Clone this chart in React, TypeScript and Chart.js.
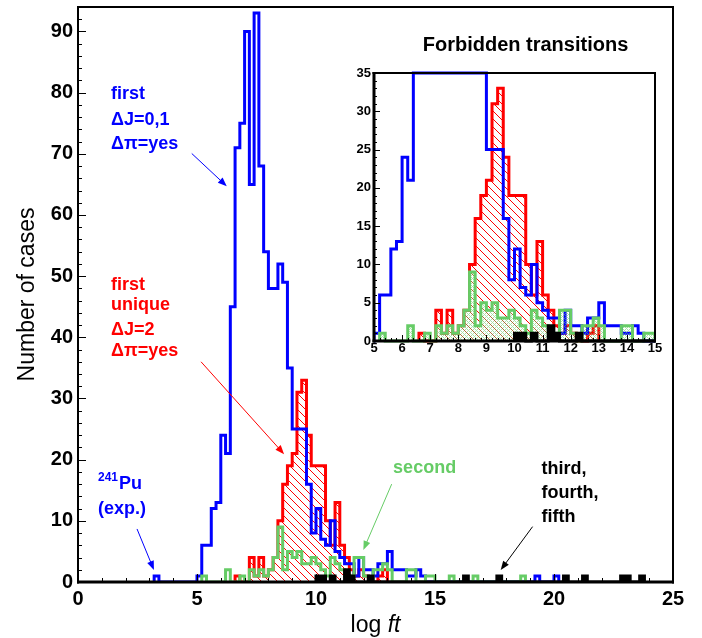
import React, { useEffect, useRef } from 'react';
import { Chart, registerables } from 'chart.js';

Chart.register(...registerables);

const FONT = "'Liberation Sans', Arial, Helvetica, sans-serif";
const BIN_WIDTH = 0.2;

// first forbidden, ΔJ=0,1 (blue) — counts per 0.2 bin starting at firstStart
const firstStart = 5.0;
const firstCounts = [1, 6, 6, 12, 13, 24, 21, 45, 71, 75, 90, 65, 93, 68, 54, 48, 48, 52, 49, 35, 25, 25, 25, 16, 8, 12, 7, 6, 10, 5, 4, 3, 3, 1, 4, 2, 2, 1, 3, 3, 5, 2, 2, 2, 1, 1, 2, 1];
const firstExtraEdges = [3.2, 19.2, 20.0];
const firstExtraCounts = [1, 1, 1];

// first unique, ΔJ=2 (red)
const uniqueStart = 6.6;
const uniqueCounts = [1, 0, 0, 4, 1, 4, 1, 2, 4, 10, 16, 19, 21, 31, 33, 24, 19, 19, 19, 10, 6, 13, 6, 4, 2, 1, 2, 1, 0, 0, 1, 2];
const uniqueExtraEdges: number[] = [];
const uniqueExtraCounts: number[] = [];

// second forbidden (green)
const secondStart = 5.2;
const secondCounts = [1, 0, 0, 0, 0, 2, 0, 0, 1, 0, 2, 1, 2, 1, 2, 4, 9, 2, 5, 4, 5, 3, 3, 4, 3, 2, 1, 4, 3, 2, 1, 1, 4, 4, 1, 0, 2, 2, 3, 2, 0, 0, 0, 2, 2, 0, 0, 1, 1];
const secondExtraEdges = [15.6, 16.6, 18.6];
const secondExtraCounts = [1, 1, 1];

// third, fourth, fifth (black)
const higherStart = 10.0;
const higherCounts = [1, 1, 0, 1, 0, 0, 2, 1, 0, 0, 0, 1];
const higherExtraEdges = [16.2, 17.6, 20.4, 21.2, 22.8, 23.0, 23.6];
const higherExtraCounts = [1, 1, 1, 1, 1, 1, 1];

// axes
const mainXTicks = [0, 5, 10, 15, 20, 25];
const mainYTicks = [0, 10, 20, 30, 40, 50, 60, 70, 80, 90];
const insetXTicks = [5, 6, 7, 8, 9, 10, 11, 12, 13, 14, 15];
const insetYTicks = [0, 5, 10, 15, 20, 25, 30, 35];

// annotation texts
const firstLabel = ['first', 'ΔJ=0,1', 'Δπ=yes'];
const uniqueLabel = ['first', 'unique', 'ΔJ=2', 'Δπ=yes'];
const puLabel = ['241', 'Pu', '(exp.)'];
const secondLabel = 'second';
const higherLabel = ['third,', 'fourth,', 'fifth'];
const insetTitle = 'Forbidden transitions';

const BLUE = '#0000ff';
const RED = '#ff0000';
const GREEN = '#66cc66';
const BLACK = '#000000';

type Pt = { x: number; y: number };

function histogramSteps(start: number, counts: number[], extraEdges: number[], extraCounts: number[], cap = Infinity): Pt[] {
  const bins = new Map<number, number>();
  const k0 = Math.round(start / BIN_WIDTH);
  counts.forEach((c, i) => bins.set(k0 + i, c));
  extraEdges.forEach((e, i) => bins.set(Math.round(e / BIN_WIDTH), extraCounts[i]));
  const keys = Array.from(bins.keys());
  const lo = Math.min(...keys);
  const hi = Math.max(...keys);
  const pts: Pt[] = [{ x: lo * BIN_WIDTH, y: 0 }];
  for (let k = lo; k <= hi; k++) pts.push({ x: k * BIN_WIDTH, y: Math.min(bins.get(k) ?? 0, cap) });
  pts.push({ x: (hi + 1) * BIN_WIDTH, y: 0 });
  return pts;
}

function hatch(ctx: CanvasRenderingContext2D, color: string, size: number) {
  const c = document.createElement('canvas');
  c.width = size;
  c.height = size;
  const g = c.getContext('2d')!;
  g.strokeStyle = color;
  g.lineWidth = 1;
  g.beginPath();
  g.moveTo(-1, -1);
  g.lineTo(size + 1, size + 1);
  g.moveTo(-1, size - 1);
  g.lineTo(1, size + 1);
  g.moveTo(size - 1, -1);
  g.lineTo(size + 1, 1);
  g.stroke();
  return ctx.createPattern(c, 'repeat')!;
}

function crossHatch(ctx: CanvasRenderingContext2D, color: string) {
  const c = document.createElement('canvas');
  c.width = 4;
  c.height = 4;
  const g = c.getContext('2d')!;
  g.fillStyle = color;
  g.fillRect(0, 0, 1, 1);
  g.fillRect(2, 2, 1, 1);
  g.fillRect(1, 1, 1, 1);
  g.fillRect(3, 3, 1, 1);
  g.fillRect(3, 1, 1, 1);
  g.fillRect(1, 3, 1, 1);
  return ctx.createPattern(c, 'repeat')!;
}

type FrameCfg = {
  xMin: number; xMax: number; xMajor: number; xMinor: number;
  yMin: number; yMax: number; yMajor: number; yMinor: number;
  majorLen: number; minorLen: number;
  wLeft: number; wBottom: number; wTop: number; wRight: number;
};

function drawFrame(chart: any, cfg: FrameCfg) {
  const { ctx, chartArea: a, scales } = chart;
  const sx = scales.x;
  const sy = scales.y;
  ctx.save();
  ctx.strokeStyle = '#000';
  ctx.lineWidth = 1;
  ctx.beginPath();
  const nx = Math.round((cfg.xMax - cfg.xMin) / cfg.xMinor);
  for (let i = 0; i <= nx; i++) {
    const v = cfg.xMin + i * cfg.xMinor;
    const r = v / cfg.xMajor;
    const major = Math.abs(r - Math.round(r)) < 1e-6;
    const px = Math.round(sx.getPixelForValue(v)) + 0.5;
    ctx.moveTo(px, a.bottom);
    ctx.lineTo(px, a.bottom - (major ? cfg.majorLen : cfg.minorLen));
  }
  const ny = Math.floor((cfg.yMax - cfg.yMin) / cfg.yMinor + 1e-6);
  for (let i = 0; i <= ny; i++) {
    const v = cfg.yMin + i * cfg.yMinor;
    const r = v / cfg.yMajor;
    const major = Math.abs(r - Math.round(r)) < 1e-6;
    const py = Math.round(sy.getPixelForValue(v)) + 0.5;
    ctx.moveTo(a.left, py);
    ctx.lineTo(a.left + (major ? cfg.majorLen : cfg.minorLen), py);
  }
  ctx.stroke();
  ctx.fillStyle = '#000';
  ctx.fillRect(a.left - cfg.wLeft / 2, a.top - cfg.wTop / 2, cfg.wLeft, a.bottom - a.top + cfg.wTop / 2 + cfg.wBottom / 2);
  ctx.fillRect(a.left - cfg.wLeft / 2, a.bottom - cfg.wBottom / 2, a.right - a.left + cfg.wLeft / 2 + cfg.wRight / 2, cfg.wBottom);
  ctx.fillRect(a.left - cfg.wLeft / 2, a.top - cfg.wTop / 2, a.right - a.left + cfg.wLeft / 2 + cfg.wRight / 2, cfg.wTop);
  ctx.fillRect(a.right - cfg.wRight / 2, a.top - cfg.wTop / 2, cfg.wRight, a.bottom - a.top + cfg.wTop / 2 + cfg.wBottom / 2);
  ctx.restore();
}

function arrow(ctx: CanvasRenderingContext2D, x1: number, y1: number, x2: number, y2: number, color: string) {
  const ang = Math.atan2(y2 - y1, x2 - x1);
  const head = 9;
  const half = 3.5;
  ctx.save();
  ctx.strokeStyle = color;
  ctx.fillStyle = color;
  ctx.lineWidth = 1;
  ctx.beginPath();
  ctx.moveTo(x1, y1);
  ctx.lineTo(x2 - Math.cos(ang) * head * 0.8, y2 - Math.sin(ang) * head * 0.8);
  ctx.stroke();
  ctx.beginPath();
  ctx.moveTo(x2, y2);
  ctx.lineTo(x2 - Math.cos(ang) * head + Math.sin(ang) * half, y2 - Math.sin(ang) * head - Math.cos(ang) * half);
  ctx.lineTo(x2 - Math.cos(ang) * head - Math.sin(ang) * half, y2 - Math.sin(ang) * head + Math.cos(ang) * half);
  ctx.closePath();
  ctx.fill();
  ctx.restore();
}

function lineDataset(label: string, data: Pt[], color: string, order: number, fill: any, bg: any) {
  return {
    label,
    data,
    borderColor: color,
    borderWidth: 3,
    borderJoinStyle: 'miter' as const,
    borderCapStyle: 'butt' as const,
    pointRadius: 0,
    pointHoverRadius: 0,
    stepped: 'before' as const,
    tension: 0,
    fill,
    backgroundColor: bg,
    order,
  };
}

export default function App() {
  const mainRef = useRef<HTMLCanvasElement>(null);
  const insetRef = useRef<HTMLCanvasElement>(null);

  useEffect(() => {
    document.body.style.margin = '0';
    Chart.defaults.font.family = FONT;
    const mainCanvas = mainRef.current!;
    const insetCanvas = insetRef.current!;
    const mctx = mainCanvas.getContext('2d')!;
    const ictx = insetCanvas.getContext('2d')!;

    const tickFont = { family: FONT, size: 20, weight: 'bold' as const };

    const mainFramePlugin = {
      id: 'mainFrame',
      afterDatasetsDraw(chart: any) {
        drawFrame(chart, {
          xMin: 0, xMax: 25, xMajor: 5, xMinor: 1,
          yMin: 0, yMax: 94, yMajor: 10, yMinor: 2,
          majorLen: 8, minorLen: 4,
          wLeft: 2, wBottom: 3, wTop: 2, wRight: 2,
        });
      },
      afterDraw(chart: any) {
        const { ctx, chartArea: a, scales } = chart;
        const X = (v: number) => scales.x.getPixelForValue(v);
        const Y = (v: number) => scales.y.getPixelForValue(v);
        ctx.save();
        // axis titles
        ctx.fillStyle = '#000';
        ctx.textBaseline = 'middle';
        ctx.font = `23px ${FONT}`;
        ctx.save();
        ctx.translate(28, (a.top + a.bottom) / 2);
        ctx.rotate(-Math.PI / 2);
        ctx.textAlign = 'center';
        ctx.fillText('Number of cases', 0, 0);
        ctx.restore();
        ctx.textAlign = 'left';
        const p1 = 'log ';
        ctx.font = `23px ${FONT}`;
        const w1 = ctx.measureText(p1).width;
        ctx.font = `italic 23px ${FONT}`;
        const w2 = ctx.measureText('ft').width;
        const cx = (a.left + a.right) / 2 - (w1 + w2) / 2;
        ctx.font = `23px ${FONT}`;
        ctx.fillText(p1, cx, 626);
        ctx.font = `italic 23px ${FONT}`;
        ctx.fillText('ft', cx + w1, 626);

        // annotations
        ctx.font = `bold 18px ${FONT}`;
        ctx.fillStyle = BLUE;
        const fy = [79.8, 75.45, 71.6];
        firstLabel.forEach((t, i) => ctx.fillText(t, X(1.39), Y(fy[i])));
        ctx.fillStyle = RED;
        const uy = [48.6, 45.2, 41.2, 37.8];
        uniqueLabel.forEach((t, i) => ctx.fillText(t, X(1.39), Y(uy[i])));
        ctx.fillStyle = BLUE;
        ctx.font = `bold 12px ${FONT}`;
        const supW = ctx.measureText(puLabel[0]).width;
        ctx.fillText(puLabel[0], X(0.84), Y(16.0) - 6);
        ctx.font = `bold 18px ${FONT}`;
        ctx.fillText(puLabel[1], X(0.84) + supW + 1, Y(16.0));
        ctx.fillText(puLabel[2], X(0.84), Y(11.9));
        ctx.fillStyle = GREEN;
        ctx.fillText(secondLabel, X(13.24), Y(18.7));
        ctx.fillStyle = BLACK;
        const hy = [18.4, 14.6, 10.7];
        higherLabel.forEach((t, i) => ctx.fillText(t, X(19.48), Y(hy[i])));
        ctx.restore();

        arrow(ctx, X(4.78), Y(70.05), X(6.25), Y(64.7), BLUE);
        arrow(ctx, X(5.17), Y(36.0), X(8.66), Y(20.9), RED);
        arrow(ctx, X(2.48), Y(8.67), X(3.19), Y(1.96), BLUE);
        arrow(ctx, X(13.18), Y(16.0), X(11.99), Y(5.24), GREEN);
        arrow(ctx, X(19.1), Y(9.05), X(17.76), Y(1.96), BLACK);
      },
    };

    const mainChart = new Chart(mctx, {
      type: 'line',
      data: {
        datasets: [
          lineDataset('third, fourth, fifth', histogramSteps(higherStart, higherCounts, higherExtraEdges, higherExtraCounts), BLACK, 0, 'origin', BLACK),
          lineDataset('second', histogramSteps(secondStart, secondCounts, secondExtraEdges, secondExtraCounts), GREEN, 1, false, 'transparent'),
          lineDataset('first ΔJ=0,1', histogramSteps(firstStart, firstCounts, firstExtraEdges, firstExtraCounts), BLUE, 2, false, 'transparent'),
          lineDataset('first unique ΔJ=2', histogramSteps(uniqueStart, uniqueCounts, uniqueExtraEdges, uniqueExtraCounts), RED, 3, 'origin', hatch(mctx, RED, 8)),
        ],
      },
      options: {
        animation: false,
        responsive: false,
        maintainAspectRatio: false,
        events: [],
        layout: { padding: { left: 0, right: 29, top: 7, bottom: 0 } },
        plugins: { legend: { display: false }, tooltip: { enabled: false }, title: { display: false } },
        scales: {
          x: {
            type: 'linear',
            min: 0,
            max: 25,
            grid: { display: false, drawTicks: false },
            border: { display: false },
            ticks: { font: tickFont, color: '#000', padding: 5, maxRotation: 0, autoSkip: false },
            afterBuildTicks: (s: any) => { s.ticks = mainXTicks.map((v) => ({ value: v })); },
            afterFit: (s: any) => { s.height = 56; s.paddingLeft = 0; s.paddingRight = 0; },
          },
          y: {
            type: 'linear',
            min: 0,
            max: 94,
            grid: { display: false, drawTicks: false },
            border: { display: false },
            ticks: { font: tickFont, color: '#000', padding: 5, autoSkip: false },
            afterBuildTicks: (s: any) => { s.ticks = mainYTicks.map((v) => ({ value: v })); },
            afterFit: (s: any) => { s.width = 78; s.paddingTop = 0; s.paddingBottom = 0; },
          },
        },
      } as any,
      plugins: [mainFramePlugin],
    });

    const insetTickFont = { family: FONT, size: 13, weight: 'bold' as const };
    const CAP = 35;
    const insetPlugin = {
      id: 'insetFrame',
      afterDatasetsDraw(chart: any) {
        drawFrame(chart, {
          xMin: 5, xMax: 15, xMajor: 1, xMinor: 0.2,
          yMin: 0, yMax: 35, yMajor: 5, yMinor: 1,
          majorLen: 6, minorLen: 3,
          wLeft: 3, wBottom: 3, wTop: 2, wRight: 2,
        });
      },
      afterDraw(chart: any) {
        const { ctx, chartArea: a } = chart;
        ctx.save();
        ctx.fillStyle = '#000';
        ctx.font = `bold 20px ${FONT}`;
        ctx.textAlign = 'center';
        ctx.textBaseline = 'middle';
        ctx.fillText(insetTitle, (a.left + a.right) / 2 + 11, a.top - 28);
        ctx.restore();
      },
    };

    const clip = { left: 0, top: 3, right: 0, bottom: 3 };
    const insetChart = new Chart(ictx, {
      type: 'line',
      data: {
        datasets: [
          { ...lineDataset('third, fourth, fifth', histogramSteps(higherStart, higherCounts, higherExtraEdges, higherExtraCounts, CAP), BLACK, 0, 'origin', BLACK), clip },
          { ...lineDataset('second', histogramSteps(secondStart, secondCounts, secondExtraEdges, secondExtraCounts, CAP), GREEN, 1, 'origin', crossHatch(ictx, 'rgba(102,204,102,0.55)')), clip },
          { ...lineDataset('first ΔJ=0,1', histogramSteps(firstStart, firstCounts, firstExtraEdges, firstExtraCounts, CAP), BLUE, 2, false, 'transparent'), clip },
          { ...lineDataset('first unique ΔJ=2', histogramSteps(uniqueStart, uniqueCounts, uniqueExtraEdges, uniqueExtraCounts, CAP), RED, 3, 'origin', hatch(ictx, RED, 8)), clip },
        ],
      },
      options: {
        animation: false,
        responsive: false,
        maintainAspectRatio: false,
        events: [],
        layout: { padding: { left: 0, right: 15, top: 45, bottom: 0 } },
        plugins: { legend: { display: false }, tooltip: { enabled: false }, title: { display: false } },
        scales: {
          x: {
            type: 'linear',
            min: 5,
            max: 15,
            grid: { display: false, drawTicks: false },
            border: { display: false },
            ticks: { font: insetTickFont, color: '#000', padding: 0, maxRotation: 0, autoSkip: false },
            afterBuildTicks: (s: any) => { s.ticks = insetXTicks.map((v) => ({ value: v })); },
            afterFit: (s: any) => { s.height = 21; s.paddingLeft = 0; s.paddingRight = 0; },
          },
          y: {
            type: 'linear',
            min: 0,
            max: 35,
            grid: { display: false, drawTicks: false },
            border: { display: false },
            ticks: { font: insetTickFont, color: '#000', padding: 3, autoSkip: false },
            afterBuildTicks: (s: any) => { s.ticks = insetYTicks.map((v) => ({ value: v })); },
            afterFit: (s: any) => { s.width = 44; s.paddingTop = 0; s.paddingBottom = 0; },
          },
        },
      } as any,
      plugins: [insetPlugin],
    });

    return () => {
      mainChart.destroy();
      insetChart.destroy();
    };
  }, []);

  return (
    <div style={{ position: 'relative', width: 702, height: 638, background: '#fff' }}>
      <canvas ref={mainRef} width={702} height={638} style={{ position: 'absolute', left: 0, top: 0, width: 702, height: 638 }} />
      <canvas ref={insetRef} width={340} height={334} style={{ position: 'absolute', left: 330, top: 28, width: 340, height: 334 }} />
    </div>
  );
}
